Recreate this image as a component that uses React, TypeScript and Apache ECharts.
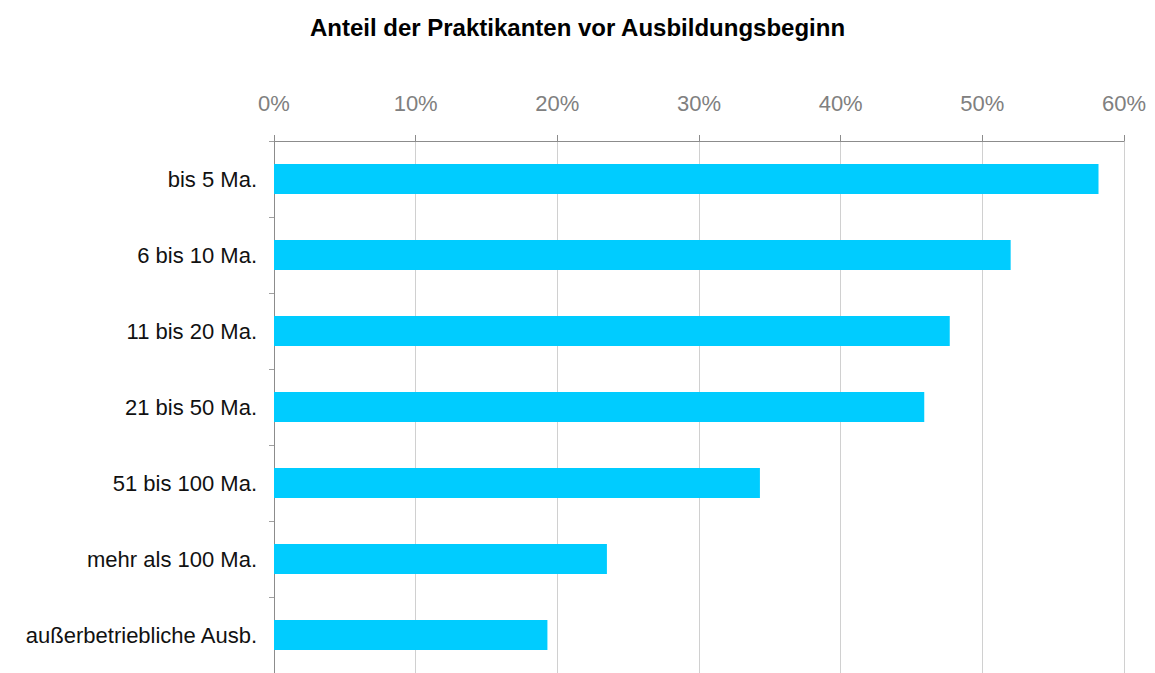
import React, { useEffect, useRef } from "react";
import * as echarts from "echarts";

const categories = [
  "bis 5 Ma.",
  "6 bis 10 Ma.",
  "11 bis 20 Ma.",
  "21 bis 50 Ma.",
  "51 bis 100 Ma.",
  "mehr als 100 Ma.",
  "außerbetriebliche Ausb.",
];
const values = [58.2, 52.0, 47.7, 45.9, 34.3, 23.5, 19.3];
const titleText = "Anteil der Praktikanten vor Ausbildungsbeginn";

export default function App() {
  const ref = useRef<HTMLDivElement>(null);
  useEffect(() => {
    if (!ref.current) return;
    const chart = echarts.init(ref.current, undefined, { renderer: "svg" });
    chart.setOption({
      animation: false,
      backgroundColor: "#ffffff",
      textStyle: { fontFamily: "Liberation Sans, Arial, sans-serif" },
      title: {
        text: titleText,
        left: "center",
        top: 10,
        textStyle: { fontSize: 24, fontWeight: "bold", color: "#000000", fontFamily: "Liberation Sans, Arial, sans-serif" },
      },
      grid: { left: 274, top: 141, width: 850, height: 537, containLabel: false },
      xAxis: {
        type: "value",
        position: "top",
        min: 0,
        max: 60,
        interval: 10,
        axisLine: { show: true, lineStyle: { color: "#8c8c8c", width: 1 } },
        axisTick: { show: true, length: 6, lineStyle: { color: "#8c8c8c" } },
        splitLine: { show: true, lineStyle: { color: "#d0d0d0", width: 1 } },
        axisLabel: {
          formatter: "{value}%",
          color: "#808080",
          fontSize: 22,
          margin: 27,
          fontFamily: "Liberation Sans, Arial, sans-serif",
        },
      },
      yAxis: {
        type: "category",
        data: categories,
        inverse: true,
        axisLine: { show: true, lineStyle: { color: "#8c8c8c", width: 1 } },
        axisTick: { show: true, length: 5, lineStyle: { color: "#a0a0a0" } },
        axisLabel: {
          color: "#111111",
          fontSize: 22,
          margin: 17,
          fontFamily: "Liberation Sans, Arial, sans-serif",
        },
      },
      series: [
        {
          type: "bar",
          data: values,
          barWidth: 30,
          itemStyle: { color: "#00ccff" },
        },
      ],
    });
    return () => chart.dispose();
  }, []);
  return (
    <div
      ref={ref}
      style={{ position: "fixed", left: 0, top: 0, width: 1155, height: 673 }}
    />
  );
}
